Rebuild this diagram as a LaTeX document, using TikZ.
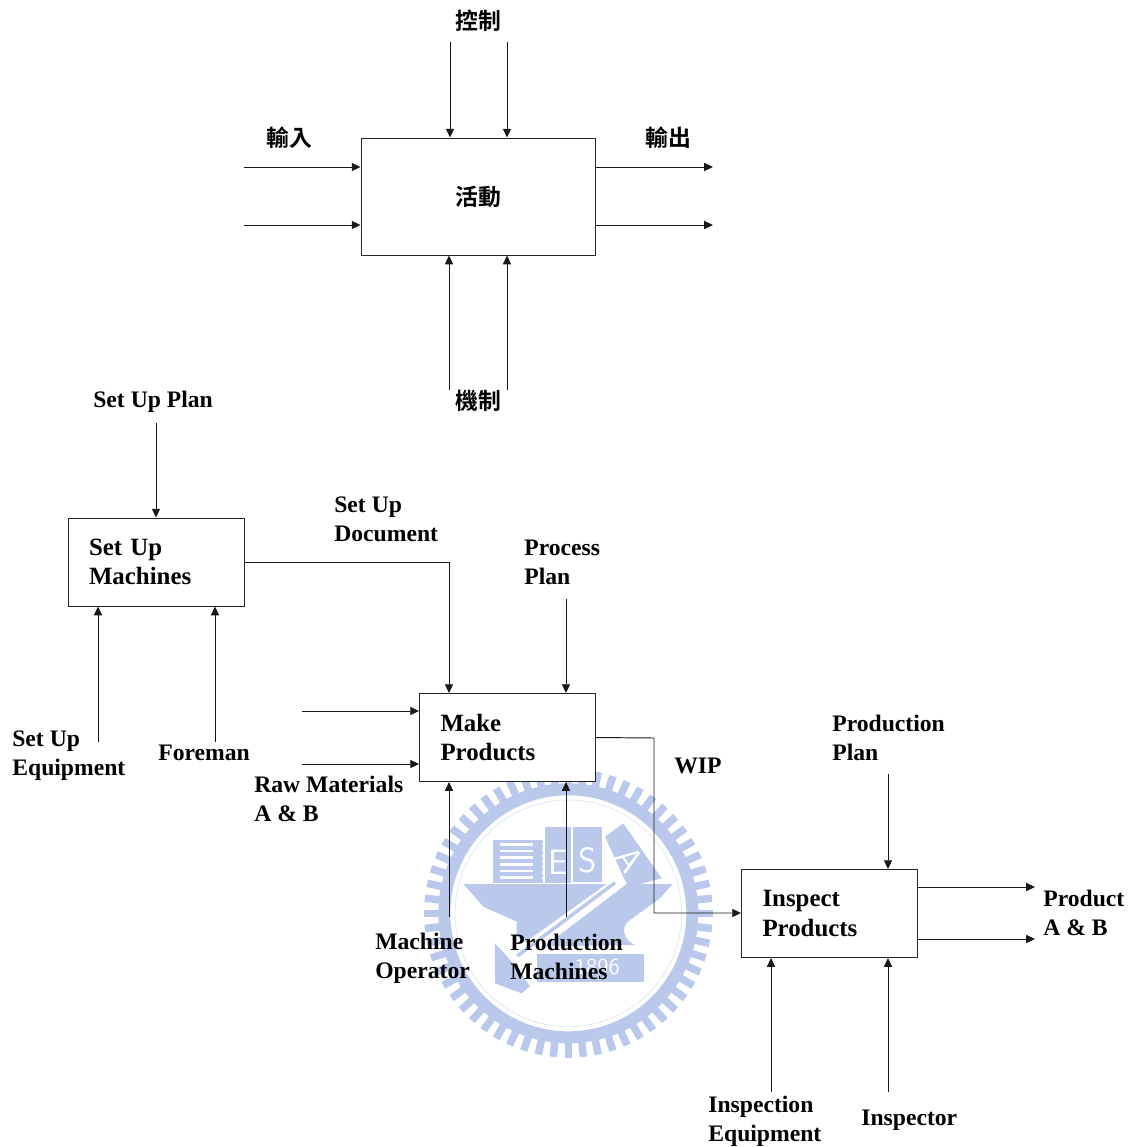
\documentclass[tikz,border=0pt]{standalone}
\usepackage{fontspec}
\setmainfont{Liberation Serif}
\newfontfamily\cjk{Noto Sans CJK TC}[BoldFont={* Bold}]
\usetikzlibrary{arrows.meta,calc}
\definecolor{wmblue}{RGB}{186,200,236}

\begin{document}
\begin{tikzpicture}[
  x=0.02cm, y=-0.02cm,
  font=\fontsize{13.45}{16.4}\selectfont\bfseries, >={Stealth[inset=0pt,length=5pt,width=4.6pt]},
  box/.style={draw=black!85, line width=0.55pt, fill=white, minimum height=1.76cm,
              text width=2.68cm, inner xsep=0.42cm, inner ysep=0pt, align=left,
              font=\fontsize{14.15}{16.6}\selectfont\bfseries},
  term/.style={inner sep=0pt, align=left, anchor=west},
  cjkterm/.style={inner sep=0pt, font=\fontsize{13}{16}\selectfont\cjk\bfseries},
  wmletter/.style={white, inner sep=0pt, font=\fontsize{20}{22}\selectfont\sffamily},
  arr/.style={->, line width=0.55pt, color=black!90},
]
\useasboundingbox (0,0) rectangle (1135,1147);
% watermark
\begin{scope}[shift={(400,750)}, x=0.00667cm, y=-0.00667cm, color=wmblue]
  \draw[line width=0.24cm] (505,490) circle [radius=372];
  \draw[line width=0.3pt, wmblue!60] (505,490) circle [radius=340];
  \foreach \a in {0,6,...,354}
    \draw[line width=0.15cm] ($(505,490)+(\a:385)$) -- ($(505,490)+(\a:433)$);
  \fill (278,270) rectangle (430,400);
  \fill (435,230) rectangle (512,400);
  \fill (518,230) rectangle (605,395);
  \fill (615,260) -- (670,220) -- (785,385) -- (720,402) -- (680,402) -- cycle;
  \fill (190,402) -- (818,402) -- (780,445) -- (690,510)
        .. controls (660,530) and (670,570) .. (705,585) -- (400,590)
        -- (350,560) -- (350,515) -- (250,470) -- cycle;
  \fill (412,613) rectangle (732,697);
  \fill (285,580) -- (340,640) -- (390,708) -- (365,730) -- (285,700) -- cycle;
  \foreach \y in {283,303,323,343,363,383}
    \draw[white, line width=1.6pt] (300,\y) -- (400,\y);
  \draw[white, line width=1.2pt, dotted] (430,280) -- (430,400);
  \fill[white] (658,375) -- (682,400) -- (360,645) -- (330,610) -- cycle;
  \draw[line width=0.07cm] (645,398) -- (352,618);
  \node[wmletter] at (475,338) {E};
  \node[wmletter] at (562,332) {S};
  \node[wmletter, rotate=-55] at (690,328) {A};
  \node[white, inner sep=0pt, font=\fontsize{13}{15}\selectfont\sffamily] at (592,652) {1896};
\end{scope}

% upper box
\node[box, minimum height=2.34cm, text width=4.7cm, inner xsep=0pt, align=center, font=\fontsize{13}{16}\selectfont\cjk\bfseries]
  (activity) at (478.5,196.5) {活動};
\node[cjkterm] (control) at (478,21) {控制};
\node[cjkterm] (input) at (289,138) {輸入};
\node[cjkterm] (output) at (668,138) {輸出};
\node[cjkterm] (mechanism) at (478,401) {機制};

\coordinate (c1) at (450,42);
\coordinate (c2) at (507,42);
\coordinate (i1) at (244,167);
\coordinate (i2) at (244,225);
\coordinate (o1) at (713,167);
\coordinate (o2) at (713,225);
\coordinate (m1) at (449,390);
\coordinate (m2) at (507,390);
\draw[arr] (c1) -- (c1 |- activity.north);
\draw[arr] (c2) -- (c2 |- activity.north);
\draw[arr] (i1) -- (i1 -| activity.west);
\draw[arr] (i2) -- (i2 -| activity.west);
\draw[arr] (o1 -| activity.east) -- (o1);
\draw[arr] (o2 -| activity.east) -- (o2);
\draw[arr] (m1) -- (m1 |- activity.south);
\draw[arr] (m2) -- (m2 |- activity.south);

% lower boxes
\node[box] (setup) at (156,562) {Set Up\\Machines};
\node[box] (make) at (507.5,737.5) {Make\\Products};
\node[box] (inspect) at (829.5,913.5) {Inspect\\Products};

\node[term] (setupplan) at (93,402) {Set Up Plan};
\node[term] (setupdoc) at (334,519) {Set Up\\Document};
\node[term] (processplan) at (524,562) {Process\\Plan};
\node[term] (setupequip) at (12,756) {Set Up\\Equipment};
\node[term] (foreman) at (158,753) {Foreman};
\node[term] (rawmat) at (254,799) {Raw Materials\\A \& B};
\node[term] (wip) at (674,765.5) {WIP};
\node[term] (operator) at (375,958) {Machine\\Operator};
\node[term] (machines) at (510,957) {Production\\Machines};
\node[term] (prodplan) at (832,737.5) {Production\\Plan};
\node[term] (product) at (1043,913) {Product\\A \& B};
\node[term] (inspequip) at (708,1121) {Inspection\\Equipment};
\node[term] (inspector) at (861,1120) {Inspector};

\coordinate (a1) at (156,423);
\coordinate (a2) at (98,742);
\coordinate (a3) at (215,742);
\coordinate (a4) at (566,599);
\coordinate (a5) at (302,711);
\coordinate (a6) at (302,764);
\coordinate (a7) at (449,917);
\coordinate (a8) at (566,917);
\coordinate (a9) at (888,774);
\coordinate (a10) at (1035,887);
\coordinate (a11) at (1035,939);
\coordinate (a12) at (771,1092);
\coordinate (a13) at (888,1092);
\coordinate (doc) at (449,562);
\coordinate (wipout) at (596,738);
\coordinate (wipin) at (654,913);

\draw[arr] (a1) -- (a1 |- setup.north);
\draw[arr] (a2) -- (a2 |- setup.south);
\draw[arr] (a3) -- (a3 |- setup.south);
\draw[arr] (setup.east) -- (doc) -- (doc |- make.north);
\draw[arr] (a4) -- (a4 |- make.north);
\draw[arr] (a5) -- (a5 -| make.west);
\draw[arr] (a6) -- (a6 -| make.west);
\draw[arr] (a7) -- (a7 |- make.south);
\draw[arr] (a8) -- (a8 |- make.south);
\draw[arr] (make.east) -- (wipout -| wipin) -- (wipin) -- (wipin -| inspect.west);
\draw[arr] (a9) -- (a9 |- inspect.north);
\draw[arr] (a10 -| inspect.east) -- (a10);
\draw[arr] (a11 -| inspect.east) -- (a11);
\draw[arr] (a12) -- (a12 |- inspect.south);
\draw[arr] (a13) -- (a13 |- inspect.south);
\end{tikzpicture}
\end{document}
